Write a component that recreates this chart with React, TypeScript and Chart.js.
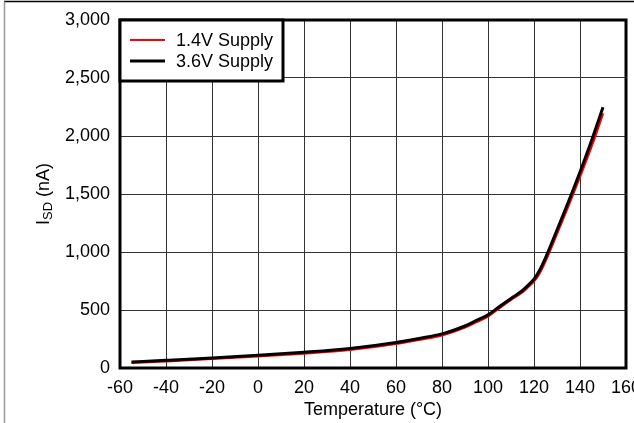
import React, { useEffect, useRef } from "react";
import { Chart, registerables } from "chart.js";

Chart.register(...registerables);

const temps = [-55, -40, -20, 0, 20, 40, 60, 70, 80, 90, 95, 100, 105, 110, 115, 117.5, 120, 122.5, 125, 130, 135, 140, 145, 150];
const supply14 = [46, 59, 79, 101, 126, 158, 209, 244, 282, 350, 397, 445, 518, 588, 655, 700, 748, 820, 922, 1160, 1400, 1650, 1910, 2195];
const supply36 = [52, 66, 86, 109, 135, 168, 220, 255, 294, 362, 410, 458, 530, 600, 668, 715, 765, 845, 950, 1190, 1435, 1690, 1960, 2248];
const legendLabels = ["1.4V Supply", "3.6V Supply"];
const seriesColors = ["#ff0000", "#000000"];
const xTitle = "Temperature (°C)";

const FONT = "'Liberation Sans', Arial, sans-serif";

const framePlugin = {
  id: "framePlugin",
  afterDraw(chart: any) {
    const ctx = chart.ctx as CanvasRenderingContext2D;
    const { left, top, right, bottom } = chart.chartArea;
    ctx.save();
    // outer frame
    ctx.strokeStyle = "#000";
    ctx.lineWidth = 1.5;
    ctx.beginPath();
    ctx.moveTo(4, 1.5);
    ctx.lineTo(chart.width, 1.5);
    ctx.stroke();
    ctx.strokeStyle = "#999";
    ctx.lineWidth = 1.5;
    ctx.beginPath();
    ctx.moveTo(4.5, 1.5);
    ctx.lineTo(4.5, chart.height);
    ctx.stroke();

    // plot box
    ctx.strokeStyle = "#000";
    ctx.lineWidth = 3;
    ctx.strokeRect(left, top, right - left, bottom - top);

    // legend box
    const bx = left, by = top, bw = 163, bh = 61;
    ctx.fillStyle = "#fff";
    ctx.fillRect(bx, by, bw, bh);
    ctx.strokeRect(bx, by, bw, bh);
    ctx.font = `18px ${FONT}`;
    ctx.textBaseline = "middle";
    ctx.textAlign = "left";
    legendLabels.forEach((lab, i) => {
      const y = by + 20 + i * 21;
      ctx.strokeStyle = seriesColors[i];
      ctx.lineWidth = i === 0 ? 2 : 3;
      ctx.beginPath();
      ctx.moveTo(bx + 10, y);
      ctx.lineTo(bx + 45, y);
      ctx.stroke();
      ctx.fillStyle = "#000";
      ctx.fillText(lab, bx + 56, y + 1);
    });

    // x title
    ctx.textAlign = "center";
    ctx.fillStyle = "#000";
    ctx.font = `18px ${FONT}`;
    ctx.fillText(xTitle, (left + right) / 2, 410);

    // y title with subscript
    ctx.translate(43, (top + bottom) / 2);
    ctx.rotate(-Math.PI / 2);
    const big = `18px ${FONT}`;
    const small = `13px ${FONT}`;
    ctx.font = big;
    const wI = ctx.measureText("I").width;
    const wRest = ctx.measureText(" (nA)").width;
    ctx.font = small;
    const wSD = ctx.measureText("SD").width;
    const total = wI + wSD + wRest;
    let x = -total / 2;
    ctx.textAlign = "left";
    ctx.textBaseline = "alphabetic";
    ctx.font = big;
    ctx.fillText("I", x, 6);
    x += wI;
    ctx.font = small;
    ctx.fillText("SD", x, 9);
    x += wSD;
    ctx.font = big;
    ctx.fillText(" (nA)", x, 6);
    ctx.restore();
  },
};

export default function App() {
  const ref = useRef<HTMLCanvasElement>(null);
  useEffect(() => {
    document.body.style.margin = "0";
    const chart = new Chart(ref.current as HTMLCanvasElement, {
      type: "line",
      data: {
        datasets: [
          {
            label: legendLabels[0],
            data: temps.map((t, i) => ({ x: t, y: supply14[i] })),
            borderColor: seriesColors[0],
            borderWidth: 2.5,
            pointRadius: 0,
            cubicInterpolationMode: "monotone",
            order: 1,
          },
          {
            label: legendLabels[1],
            data: temps.map((t, i) => ({ x: t, y: supply36[i] })),
            borderColor: seriesColors[1],
            borderWidth: 3,
            pointRadius: 0,
            cubicInterpolationMode: "monotone",
            order: 0,
          },
        ],
      },
      options: {
        animation: false,
        responsive: true,
        maintainAspectRatio: false,
        layout: { padding: { left: 0, right: 8, top: 20, bottom: 0 } },
        plugins: { legend: { display: false }, tooltip: { enabled: false } },
        scales: {
          x: {
            type: "linear",
            min: -60,
            max: 160,
            afterFit(scale: any) {
              scale.height = 55;
              scale.paddingLeft = 0;
              scale.paddingRight = 0;
            },
            ticks: {
              stepSize: 20,
              autoSkip: false,
              maxRotation: 0,
              padding: 9,
              color: "#000",
              font: { family: FONT, size: 18 },
            },
            grid: { color: "#333", lineWidth: 1, drawTicks: false },
            border: { display: false },
          },
          y: {
            type: "linear",
            min: 0,
            max: 3000,
            afterFit(scale: any) {
              scale.width = 120;
              scale.paddingTop = 0;
              scale.paddingBottom = 0;
            },
            ticks: {
              stepSize: 500,
              padding: 10,
              color: "#000",
              font: { family: FONT, size: 18 },
              callback: (v: any) => Number(v).toLocaleString("en-US"),
            },
            grid: { color: "#333", lineWidth: 1, drawTicks: false },
            border: { display: false },
          },
        },
      },
      plugins: [framePlugin],
    });
    return () => chart.destroy();
  }, []);
  return (
    <div style={{ width: 634, height: 423, position: "relative", overflow: "hidden" }}>
      <canvas ref={ref} />
    </div>
  );
}
